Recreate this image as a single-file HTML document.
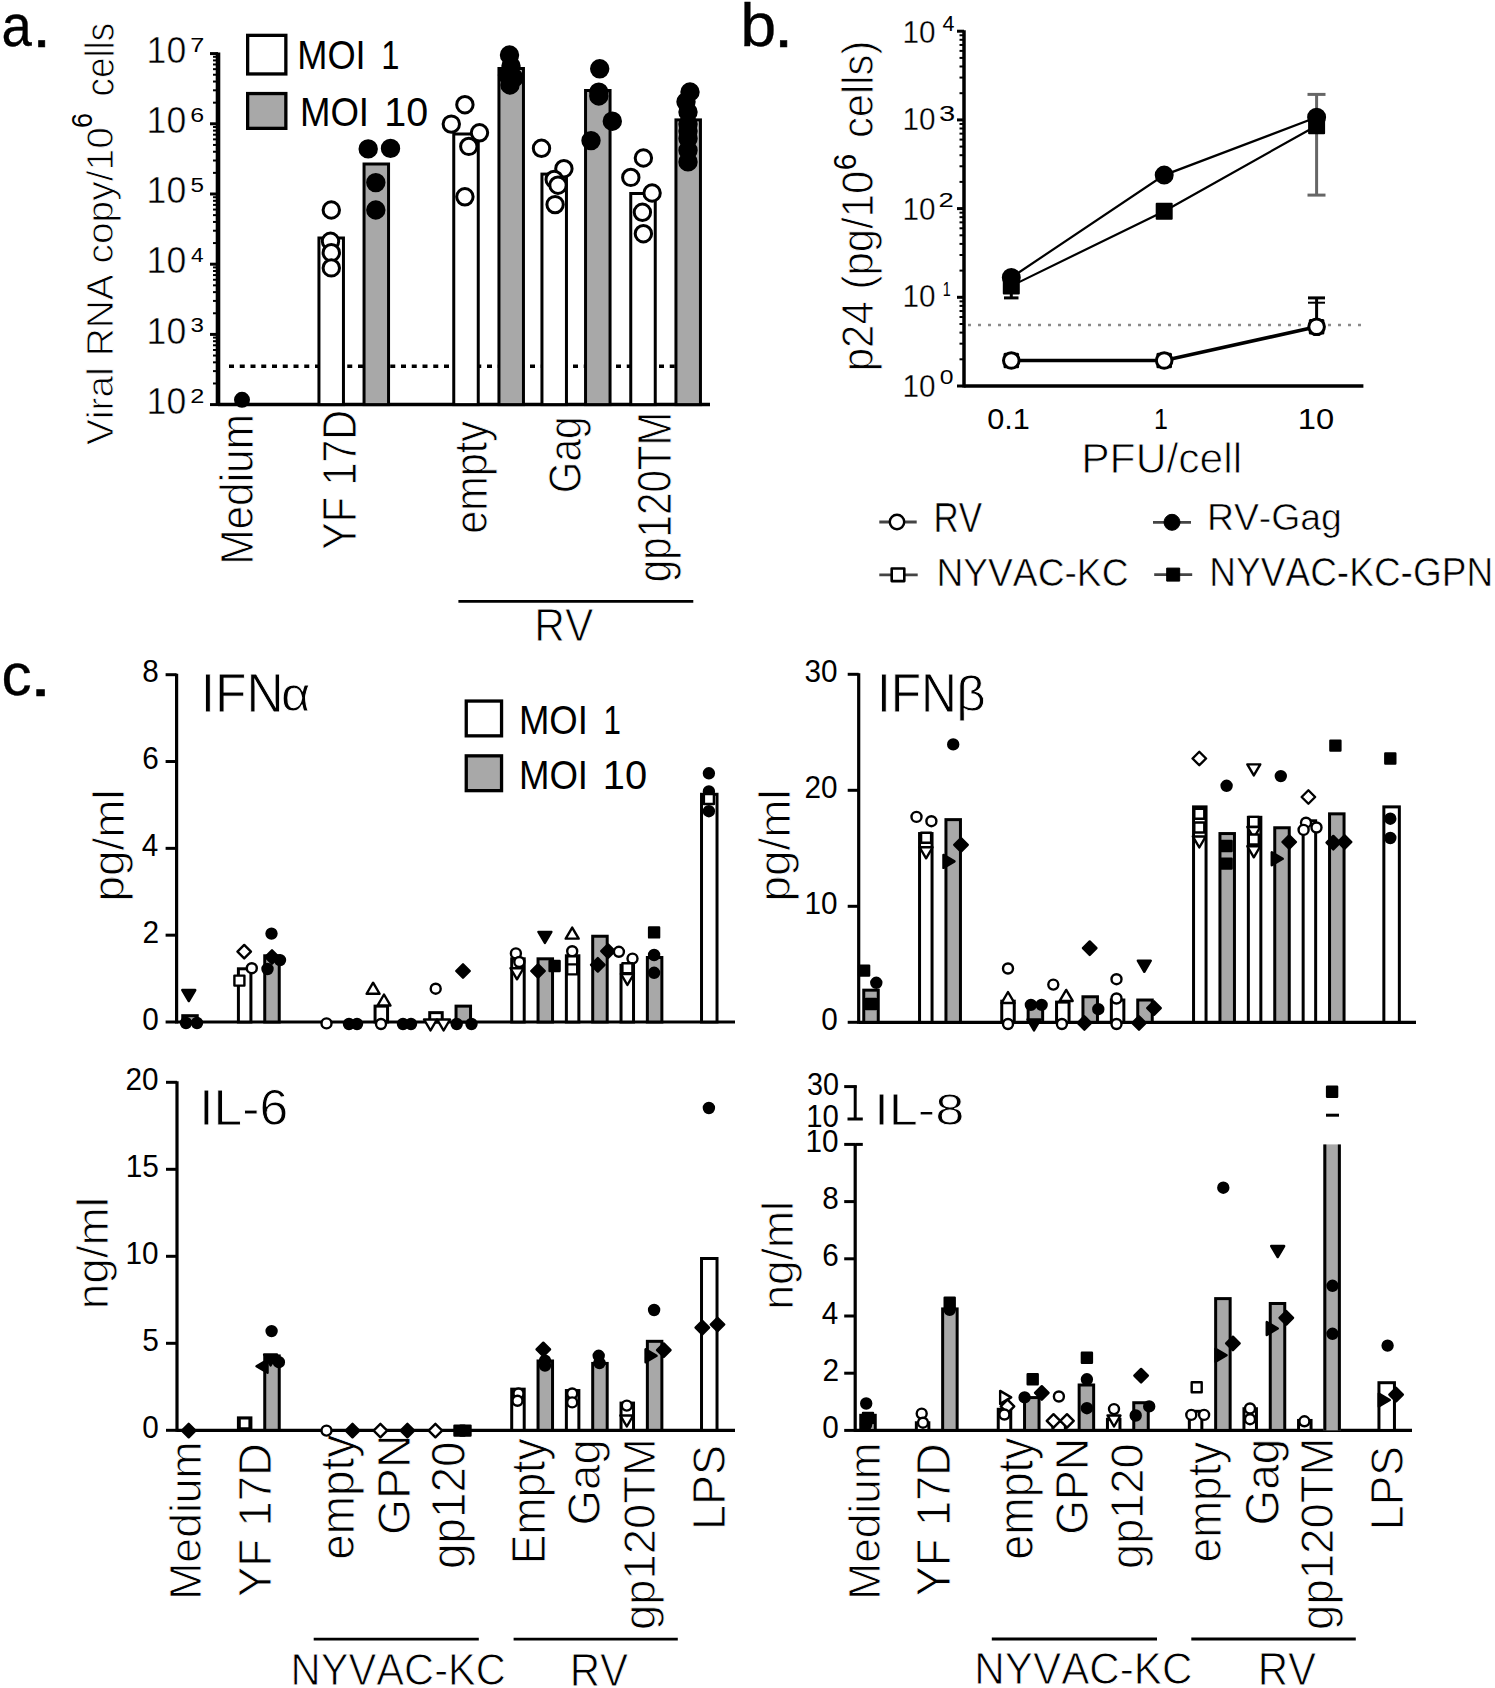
<!DOCTYPE html>
<html><head><meta charset="utf-8"><style>
html,body{margin:0;padding:0;background:#fff;overflow:hidden;}
svg{display:block;font-family:"Liberation Sans", sans-serif;font-kerning:none;}
</style></head><body>
<svg width="1495" height="1688" viewBox="0 0 1495 1688">
<rect width="1495" height="1688" fill="#fff"/>
<text transform="translate(1.39,46.22) scale(0.91,1)" font-size="59.87" fill="#000" stroke="#000" stroke-width="0.3">a</text>
<text transform="translate(32.56,46.8) scale(1.12,1)" font-size="58.92" fill="#000" stroke="#000" stroke-width="0.6">.</text>
<line x1="218" y1="52.6" x2="218" y2="406.1" stroke="#000" stroke-width="4.6"/>
<line x1="210" y1="404.6" x2="218" y2="404.6" stroke="#000" stroke-width="3"/>
<line x1="213" y1="383.47" x2="218" y2="383.47" stroke="#000" stroke-width="2"/>
<line x1="213" y1="371.11" x2="218" y2="371.11" stroke="#000" stroke-width="2"/>
<line x1="213" y1="362.34" x2="218" y2="362.34" stroke="#000" stroke-width="2"/>
<line x1="213" y1="355.53" x2="218" y2="355.53" stroke="#000" stroke-width="2"/>
<line x1="213" y1="349.97" x2="218" y2="349.97" stroke="#000" stroke-width="2"/>
<line x1="213" y1="345.27" x2="218" y2="345.27" stroke="#000" stroke-width="2"/>
<line x1="213" y1="341.2" x2="218" y2="341.2" stroke="#000" stroke-width="2"/>
<line x1="213" y1="337.61" x2="218" y2="337.61" stroke="#000" stroke-width="2"/>
<line x1="210" y1="334.4" x2="218" y2="334.4" stroke="#000" stroke-width="3"/>
<line x1="213" y1="313.27" x2="218" y2="313.27" stroke="#000" stroke-width="2"/>
<line x1="213" y1="300.91" x2="218" y2="300.91" stroke="#000" stroke-width="2"/>
<line x1="213" y1="292.14" x2="218" y2="292.14" stroke="#000" stroke-width="2"/>
<line x1="213" y1="285.33" x2="218" y2="285.33" stroke="#000" stroke-width="2"/>
<line x1="213" y1="279.77" x2="218" y2="279.77" stroke="#000" stroke-width="2"/>
<line x1="213" y1="275.07" x2="218" y2="275.07" stroke="#000" stroke-width="2"/>
<line x1="213" y1="271" x2="218" y2="271" stroke="#000" stroke-width="2"/>
<line x1="213" y1="267.41" x2="218" y2="267.41" stroke="#000" stroke-width="2"/>
<line x1="210" y1="264.2" x2="218" y2="264.2" stroke="#000" stroke-width="3"/>
<line x1="213" y1="243.07" x2="218" y2="243.07" stroke="#000" stroke-width="2"/>
<line x1="213" y1="230.71" x2="218" y2="230.71" stroke="#000" stroke-width="2"/>
<line x1="213" y1="221.94" x2="218" y2="221.94" stroke="#000" stroke-width="2"/>
<line x1="213" y1="215.13" x2="218" y2="215.13" stroke="#000" stroke-width="2"/>
<line x1="213" y1="209.57" x2="218" y2="209.57" stroke="#000" stroke-width="2"/>
<line x1="213" y1="204.87" x2="218" y2="204.87" stroke="#000" stroke-width="2"/>
<line x1="213" y1="200.8" x2="218" y2="200.8" stroke="#000" stroke-width="2"/>
<line x1="213" y1="197.21" x2="218" y2="197.21" stroke="#000" stroke-width="2"/>
<line x1="210" y1="194" x2="218" y2="194" stroke="#000" stroke-width="3"/>
<line x1="213" y1="172.87" x2="218" y2="172.87" stroke="#000" stroke-width="2"/>
<line x1="213" y1="160.51" x2="218" y2="160.51" stroke="#000" stroke-width="2"/>
<line x1="213" y1="151.74" x2="218" y2="151.74" stroke="#000" stroke-width="2"/>
<line x1="213" y1="144.93" x2="218" y2="144.93" stroke="#000" stroke-width="2"/>
<line x1="213" y1="139.37" x2="218" y2="139.37" stroke="#000" stroke-width="2"/>
<line x1="213" y1="134.67" x2="218" y2="134.67" stroke="#000" stroke-width="2"/>
<line x1="213" y1="130.6" x2="218" y2="130.6" stroke="#000" stroke-width="2"/>
<line x1="213" y1="127.01" x2="218" y2="127.01" stroke="#000" stroke-width="2"/>
<line x1="210" y1="123.8" x2="218" y2="123.8" stroke="#000" stroke-width="3"/>
<line x1="213" y1="102.67" x2="218" y2="102.67" stroke="#000" stroke-width="2"/>
<line x1="213" y1="90.31" x2="218" y2="90.31" stroke="#000" stroke-width="2"/>
<line x1="213" y1="81.54" x2="218" y2="81.54" stroke="#000" stroke-width="2"/>
<line x1="213" y1="74.73" x2="218" y2="74.73" stroke="#000" stroke-width="2"/>
<line x1="213" y1="69.17" x2="218" y2="69.17" stroke="#000" stroke-width="2"/>
<line x1="213" y1="64.47" x2="218" y2="64.47" stroke="#000" stroke-width="2"/>
<line x1="213" y1="60.4" x2="218" y2="60.4" stroke="#000" stroke-width="2"/>
<line x1="213" y1="56.81" x2="218" y2="56.81" stroke="#000" stroke-width="2"/>
<line x1="210" y1="53.6" x2="218" y2="53.6" stroke="#000" stroke-width="3"/>
<text transform="translate(146.6,413.74) scale(0.97,1)" font-size="36.72" fill="#000" stroke="#fff" stroke-width="0.5">10</text>
<text transform="translate(190.23,402.6) scale(1.22,1)" font-size="20.77" fill="#000">2</text>
<text transform="translate(146.6,343.54) scale(0.97,1)" font-size="36.72" fill="#000" stroke="#fff" stroke-width="0.5">10</text>
<text transform="translate(190.58,332.2) scale(1.18,1)" font-size="20.48" fill="#000">3</text>
<text transform="translate(146.6,273.34) scale(0.97,1)" font-size="36.72" fill="#000" stroke="#fff" stroke-width="0.5">10</text>
<text transform="translate(190.98,262.2) scale(1.08,1)" font-size="21.08" fill="#000">4</text>
<text transform="translate(146.6,203.14) scale(0.97,1)" font-size="36.72" fill="#000" stroke="#fff" stroke-width="0.5">10</text>
<text transform="translate(190.53,191.8) scale(1.17,1)" font-size="20.78" fill="#000">5</text>
<text transform="translate(146.6,132.94) scale(0.97,1)" font-size="36.72" fill="#000" stroke="#fff" stroke-width="0.5">10</text>
<text transform="translate(190.23,121.6) scale(1.22,1)" font-size="20.48" fill="#000">6</text>
<text transform="translate(146.6,62.74) scale(0.97,1)" font-size="36.72" fill="#000" stroke="#fff" stroke-width="0.5">10</text>
<text transform="translate(190.2,51.6) scale(1.2,1)" font-size="21.08" fill="#000">7</text>
<line x1="218" y1="404.6" x2="710" y2="404.6" stroke="#000" stroke-width="3.5"/>
<line x1="229" y1="366.2" x2="702" y2="366.2" stroke="#000" stroke-width="3.6" stroke-dasharray="5,5.75"/>
<rect x="318.95" y="238" width="24.5" height="166.6" fill="#fff" stroke="#000" stroke-width="3"/>
<rect x="364.05" y="164" width="24.5" height="240.6" fill="#a8a8a8" stroke="#000" stroke-width="3"/>
<rect x="453.75" y="134" width="24.5" height="270.6" fill="#fff" stroke="#000" stroke-width="3"/>
<rect x="498.95" y="68.5" width="24.5" height="336.1" fill="#a8a8a8" stroke="#000" stroke-width="3"/>
<rect x="541.95" y="174.1" width="24.5" height="230.5" fill="#fff" stroke="#000" stroke-width="3"/>
<rect x="585.55" y="90.5" width="24.5" height="314.1" fill="#a8a8a8" stroke="#000" stroke-width="3"/>
<rect x="630.75" y="193.5" width="24.5" height="211.1" fill="#fff" stroke="#000" stroke-width="3"/>
<rect x="675.95" y="119.9" width="24.5" height="284.7" fill="#a8a8a8" stroke="#000" stroke-width="3"/>
<rect x="247.65" y="35.35" width="38.2" height="38.6" fill="#fff" stroke="#000" stroke-width="3.3"/>
<rect x="247.65" y="93.55" width="38.2" height="34.8" fill="#a8a8a8" stroke="#000" stroke-width="3.3"/>
<text transform="translate(297.22,68.51) scale(0.9,1)" font-size="40.25" fill="#000">MOI</text>
<text transform="translate(381.31,68.9) scale(0.79,1)" font-size="41.43" fill="#000">1</text>
<text transform="translate(299.89,126.3) scale(0.9,1)" font-size="40.68" fill="#000">MOI</text>
<text transform="translate(384.19,126.3) scale(0.97,1)" font-size="40.68" fill="#000">10</text>
<text transform="translate(112.76,444.97) rotate(-90) scale(1.03,1)" font-size="37.76" fill="#000" stroke="#fff" stroke-width="0.9">Viral RNA copy/10</text>
<text transform="translate(92.32,127.88) rotate(-90) scale(0.93,1)" font-size="29.1" fill="#000">6</text>
<text transform="translate(113.61,96.46) rotate(-90) scale(0.92,1)" font-size="40.03" fill="#000" stroke="#fff" stroke-width="0.9">cells</text>
<text transform="translate(253.05,564.86) rotate(-90) scale(0.93,1)" font-size="45.62" fill="#000" stroke="#fff" stroke-width="0.9">Medium</text>
<text transform="translate(355.5,549.7) rotate(-90) scale(0.87,1)" font-size="47.38" fill="#000" stroke="#fff" stroke-width="0.9">YF 17D</text>
<text transform="translate(487.25,533.85) rotate(-90) scale(0.9,1)" font-size="46.02" fill="#000" stroke="#fff" stroke-width="0.9">empty</text>
<text transform="translate(580.72,493.14) rotate(-90) scale(0.86,1)" font-size="47.14" fill="#000" stroke="#fff" stroke-width="0.9">Gag</text>
<text transform="translate(670.83,582.3) rotate(-90) scale(0.84,1)" font-size="48.03" fill="#000" stroke="#fff" stroke-width="0.9">gp120TM</text>
<line x1="458.4" y1="601.4" x2="693.3" y2="601.4" stroke="#000" stroke-width="2.8"/>
<text transform="translate(534.32,641) scale(0.92,1)" font-size="46.22" fill="#000" stroke="#fff" stroke-width="0.9">RV</text>
<text transform="translate(740.21,45.71) scale(1.07,1)" font-size="60.46" fill="#000" stroke="#000" stroke-width="0.3">b</text>
<text transform="translate(774.07,46.6) scale(1.12,1)" font-size="61.72" fill="#000" stroke="#000" stroke-width="0.6">.</text>
<line x1="964" y1="30.2" x2="964" y2="387.5" stroke="#000" stroke-width="3.5"/>
<line x1="957" y1="386" x2="964" y2="386" stroke="#000" stroke-width="3"/>
<line x1="959.5" y1="359.3" x2="964" y2="359.3" stroke="#000" stroke-width="2"/>
<line x1="959.5" y1="343.68" x2="964" y2="343.68" stroke="#000" stroke-width="2"/>
<line x1="959.5" y1="332.6" x2="964" y2="332.6" stroke="#000" stroke-width="2"/>
<line x1="959.5" y1="324" x2="964" y2="324" stroke="#000" stroke-width="2"/>
<line x1="959.5" y1="316.98" x2="964" y2="316.98" stroke="#000" stroke-width="2"/>
<line x1="959.5" y1="311.04" x2="964" y2="311.04" stroke="#000" stroke-width="2"/>
<line x1="959.5" y1="305.9" x2="964" y2="305.9" stroke="#000" stroke-width="2"/>
<line x1="959.5" y1="301.36" x2="964" y2="301.36" stroke="#000" stroke-width="2"/>
<line x1="957" y1="297.3" x2="964" y2="297.3" stroke="#000" stroke-width="3"/>
<line x1="959.5" y1="270.6" x2="964" y2="270.6" stroke="#000" stroke-width="2"/>
<line x1="959.5" y1="254.98" x2="964" y2="254.98" stroke="#000" stroke-width="2"/>
<line x1="959.5" y1="243.9" x2="964" y2="243.9" stroke="#000" stroke-width="2"/>
<line x1="959.5" y1="235.3" x2="964" y2="235.3" stroke="#000" stroke-width="2"/>
<line x1="959.5" y1="228.28" x2="964" y2="228.28" stroke="#000" stroke-width="2"/>
<line x1="959.5" y1="222.34" x2="964" y2="222.34" stroke="#000" stroke-width="2"/>
<line x1="959.5" y1="217.2" x2="964" y2="217.2" stroke="#000" stroke-width="2"/>
<line x1="959.5" y1="212.66" x2="964" y2="212.66" stroke="#000" stroke-width="2"/>
<line x1="957" y1="208.6" x2="964" y2="208.6" stroke="#000" stroke-width="3"/>
<line x1="959.5" y1="181.9" x2="964" y2="181.9" stroke="#000" stroke-width="2"/>
<line x1="959.5" y1="166.28" x2="964" y2="166.28" stroke="#000" stroke-width="2"/>
<line x1="959.5" y1="155.2" x2="964" y2="155.2" stroke="#000" stroke-width="2"/>
<line x1="959.5" y1="146.6" x2="964" y2="146.6" stroke="#000" stroke-width="2"/>
<line x1="959.5" y1="139.58" x2="964" y2="139.58" stroke="#000" stroke-width="2"/>
<line x1="959.5" y1="133.64" x2="964" y2="133.64" stroke="#000" stroke-width="2"/>
<line x1="959.5" y1="128.5" x2="964" y2="128.5" stroke="#000" stroke-width="2"/>
<line x1="959.5" y1="123.96" x2="964" y2="123.96" stroke="#000" stroke-width="2"/>
<line x1="957" y1="119.9" x2="964" y2="119.9" stroke="#000" stroke-width="3"/>
<line x1="959.5" y1="93.2" x2="964" y2="93.2" stroke="#000" stroke-width="2"/>
<line x1="959.5" y1="77.58" x2="964" y2="77.58" stroke="#000" stroke-width="2"/>
<line x1="959.5" y1="66.5" x2="964" y2="66.5" stroke="#000" stroke-width="2"/>
<line x1="959.5" y1="57.9" x2="964" y2="57.9" stroke="#000" stroke-width="2"/>
<line x1="959.5" y1="50.88" x2="964" y2="50.88" stroke="#000" stroke-width="2"/>
<line x1="959.5" y1="44.94" x2="964" y2="44.94" stroke="#000" stroke-width="2"/>
<line x1="959.5" y1="39.8" x2="964" y2="39.8" stroke="#000" stroke-width="2"/>
<line x1="959.5" y1="35.26" x2="964" y2="35.26" stroke="#000" stroke-width="2"/>
<line x1="957" y1="31.2" x2="964" y2="31.2" stroke="#000" stroke-width="3"/>
<line x1="964" y1="386" x2="1363.4" y2="386" stroke="#000" stroke-width="3.5"/>
<text transform="translate(902.44,396.89) scale(0.93,1)" font-size="31.92" fill="#000" stroke="#fff" stroke-width="0.3">10</text>
<text transform="translate(902.44,307.29) scale(0.93,1)" font-size="31.92" fill="#000" stroke="#fff" stroke-width="0.3">10</text>
<text transform="translate(902.44,219.99) scale(0.93,1)" font-size="31.92" fill="#000" stroke="#fff" stroke-width="0.3">10</text>
<text transform="translate(902.44,129.99) scale(0.93,1)" font-size="31.92" fill="#000" stroke="#fff" stroke-width="0.3">10</text>
<text transform="translate(902.44,43.19) scale(0.93,1)" font-size="31.92" fill="#000" stroke="#fff" stroke-width="0.3">10</text>
<text transform="translate(942.51,30.7) scale(0.96,1)" font-size="22.38" fill="#000">4</text>
<text transform="translate(938.89,120.58) scale(1.29,1)" font-size="22.6" fill="#000">3</text>
<text transform="translate(938.62,206.8) scale(1.34,1)" font-size="20.48" fill="#000">2</text>
<text transform="translate(942.7,296.4) scale(0.72,1)" font-size="19.91" fill="#000">1</text>
<text transform="translate(939.74,383.81) scale(1.28,1)" font-size="19.35" fill="#000">0</text>
<text transform="translate(987.21,428.62) scale(1.06,1)" font-size="28.95" fill="#000">0.1</text>
<text transform="translate(1153.89,428.9) scale(0.84,1)" font-size="29.8" fill="#000">1</text>
<text transform="translate(1297.71,428.62) scale(1.13,1)" font-size="28.95" fill="#000">10</text>
<text transform="translate(1081.19,472.98) scale(1,1)" font-size="42.62" fill="#000" stroke="#fff" stroke-width="0.9">PFU/cell</text>
<text transform="translate(872.94,371.21) rotate(-90) scale(0.94,1)" font-size="44.63" fill="#000" stroke="#fff" stroke-width="0.9">p24 (pg/10</text>
<text transform="translate(856.39,170.32) rotate(-90) scale(0.93,1)" font-size="32.06" fill="#000">6</text>
<text transform="translate(872.82,137.96) rotate(-90) scale(0.94,1)" font-size="44.33" fill="#000" stroke="#fff" stroke-width="0.9">cells)</text>
<line x1="968" y1="325" x2="1363" y2="325" stroke="#8a8a8a" stroke-width="2.6" stroke-dasharray="3,7"/>
<line x1="879.3" y1="522" x2="916.7" y2="522" stroke="#444" stroke-width="2.8"/>
<circle cx="897" cy="522" r="7.2" fill="#fff" stroke="#000" stroke-width="2.4" stroke-linejoin="round"/>
<line x1="1153" y1="522.3" x2="1191" y2="522.3" stroke="#444" stroke-width="2.8"/>
<circle cx="1172" cy="522.3" r="8" fill="#000" stroke="#000" stroke-width="1" stroke-linejoin="round"/>
<line x1="879.3" y1="574.8" x2="917.7" y2="574.8" stroke="#444" stroke-width="2.8"/>
<rect x="891.7" y="568.5" width="12.6" height="12.6" fill="#fff" stroke="#000" stroke-width="2.6" stroke-linejoin="round"/>
<line x1="1154.2" y1="574.6" x2="1192.2" y2="574.6" stroke="#444" stroke-width="2.8"/>
<rect x="1166.7" y="568.1" width="13" height="13" fill="#000" stroke="#000" stroke-width="1" stroke-linejoin="round"/>
<text transform="translate(933.42,532.3) scale(0.83,1)" font-size="42.15" fill="#000" stroke="#fff" stroke-width="0.6">RV</text>
<text transform="translate(1206.93,530.09) scale(1.02,1)" font-size="36.65" fill="#000" stroke="#fff" stroke-width="0.6">RV-Gag</text>
<text transform="translate(936.43,585.81) scale(0.94,1)" font-size="39.55" fill="#000" stroke="#fff" stroke-width="0.6">NYVAC-KC</text>
<text transform="translate(1209.35,586.01) scale(0.92,1)" font-size="40.25" fill="#000" stroke="#fff" stroke-width="0.6">NYVAC-KC-GPN</text>
<text transform="translate(1.45,695.13) scale(1.03,1)" font-size="58.59" fill="#000" stroke="#000" stroke-width="0.3">c</text>
<text transform="translate(29.61,696.1) scale(1.29,1)" font-size="61.72" fill="#000" stroke="#000" stroke-width="0.6">.</text>
<line x1="176.6" y1="673.7" x2="176.6" y2="1023.5" stroke="#000" stroke-width="3.2"/>
<line x1="165.6" y1="1022" x2="176.6" y2="1022" stroke="#000" stroke-width="3"/>
<text transform="translate(142.13,1029.55) scale(0.97,1)" font-size="30.65" fill="#000">0</text>
<line x1="165.6" y1="935.17" x2="176.6" y2="935.17" stroke="#000" stroke-width="3"/>
<text transform="translate(142.46,943.02) scale(0.96,1)" font-size="31.08" fill="#000">2</text>
<line x1="165.6" y1="848.35" x2="176.6" y2="848.35" stroke="#000" stroke-width="3"/>
<text transform="translate(141.84,856.2) scale(0.94,1)" font-size="31.54" fill="#000">4</text>
<line x1="165.6" y1="761.53" x2="176.6" y2="761.53" stroke="#000" stroke-width="3"/>
<text transform="translate(142.27,769.08) scale(0.97,1)" font-size="30.65" fill="#000">6</text>
<line x1="165.6" y1="674.7" x2="176.6" y2="674.7" stroke="#000" stroke-width="3"/>
<text transform="translate(142.26,682.25) scale(0.97,1)" font-size="30.65" fill="#000">8</text>
<line x1="176.6" y1="1022" x2="735" y2="1022" stroke="#000" stroke-width="3.2"/>
<rect x="182.75" y="1015.69" width="14.5" height="6.31" fill="#a8a8a8" stroke="#000" stroke-width="3"/>
<rect x="238.41" y="968.8" width="12.5" height="53.2" fill="#fff" stroke="#000" stroke-width="3"/>
<rect x="264.74" y="955.78" width="14.5" height="66.22" fill="#a8a8a8" stroke="#000" stroke-width="3"/>
<rect x="320.4" y="1023.5" width="12.5" height="-1.5" fill="#fff" stroke="#000" stroke-width="3"/>
<rect x="346.73" y="1023.5" width="14.5" height="-1.5" fill="#a8a8a8" stroke="#000" stroke-width="3"/>
<rect x="375.06" y="1006.13" width="12.5" height="15.87" fill="#fff" stroke="#000" stroke-width="3"/>
<rect x="401.39" y="1023.5" width="14.5" height="-1.5" fill="#a8a8a8" stroke="#000" stroke-width="3"/>
<rect x="429.72" y="1012.65" width="12.5" height="9.35" fill="#fff" stroke="#000" stroke-width="3"/>
<rect x="456.05" y="1006.13" width="14.5" height="15.87" fill="#a8a8a8" stroke="#000" stroke-width="3"/>
<rect x="511.71" y="958.82" width="12.5" height="63.18" fill="#fff" stroke="#000" stroke-width="3"/>
<rect x="538.04" y="958.82" width="14.5" height="63.18" fill="#a8a8a8" stroke="#000" stroke-width="3"/>
<rect x="566.37" y="955.78" width="12.5" height="66.22" fill="#fff" stroke="#000" stroke-width="3"/>
<rect x="592.7" y="936.24" width="14.5" height="85.76" fill="#a8a8a8" stroke="#000" stroke-width="3"/>
<rect x="621.03" y="965.33" width="12.5" height="56.67" fill="#fff" stroke="#000" stroke-width="3"/>
<rect x="647.36" y="957.51" width="14.5" height="64.49" fill="#a8a8a8" stroke="#000" stroke-width="3"/>
<rect x="701.52" y="794.28" width="15.5" height="227.72" fill="#fff" stroke="#000" stroke-width="3"/>
<text transform="translate(200.67,711.9) scale(0.92,1)" font-size="55.96" fill="#000" stroke="#fff" stroke-width="0.9">IFN</text>
<text transform="translate(281.06,711.44) scale(1.08,1)" font-size="47.28" fill="#000" stroke="#fff" stroke-width="0.9">α</text>
<text transform="translate(124.15,901.56) rotate(-90) scale(1.02,1)" font-size="45.06" fill="#000" stroke="#fff" stroke-width="0.9">pg/ml</text>
<rect x="466.25" y="701.05" width="35.3" height="34.8" fill="#fff" stroke="#000" stroke-width="3.3"/>
<rect x="466.25" y="755.85" width="35.3" height="34.8" fill="#a8a8a8" stroke="#000" stroke-width="3.3"/>
<text transform="translate(518.9,734.01) scale(0.91,1)" font-size="40.11" fill="#000">MOI</text>
<text transform="translate(603.5,734.4) scale(0.76,1)" font-size="41.28" fill="#000">1</text>
<text transform="translate(518.9,788.6) scale(0.9,1)" font-size="40.68" fill="#000">MOI</text>
<text transform="translate(602.87,788.6) scale(0.98,1)" font-size="40.68" fill="#000">10</text>
<line x1="858.7" y1="673.3" x2="858.7" y2="1023.8" stroke="#000" stroke-width="3.2"/>
<line x1="847.7" y1="1022.3" x2="858.7" y2="1022.3" stroke="#000" stroke-width="3"/>
<text transform="translate(821.13,1029.85) scale(0.97,1)" font-size="30.65" fill="#000">0</text>
<line x1="847.7" y1="906.3" x2="858.7" y2="906.3" stroke="#000" stroke-width="3"/>
<text transform="translate(804.59,913.85) scale(0.97,1)" font-size="30.65" fill="#000">10</text>
<line x1="847.7" y1="790.3" x2="858.7" y2="790.3" stroke="#000" stroke-width="3"/>
<text transform="translate(804.59,797.85) scale(0.97,1)" font-size="30.65" fill="#000">20</text>
<line x1="847.7" y1="674.3" x2="858.7" y2="674.3" stroke="#000" stroke-width="3"/>
<text transform="translate(804.59,681.85) scale(0.97,1)" font-size="30.65" fill="#000">30</text>
<line x1="858.7" y1="1022.3" x2="1416" y2="1022.3" stroke="#000" stroke-width="3.2"/>
<rect x="863.75" y="990.16" width="14.5" height="32.14" fill="#a8a8a8" stroke="#000" stroke-width="3"/>
<rect x="919.55" y="833.56" width="12.5" height="188.74" fill="#fff" stroke="#000" stroke-width="3"/>
<rect x="945.95" y="819.64" width="14.5" height="202.66" fill="#a8a8a8" stroke="#000" stroke-width="3"/>
<rect x="1001.75" y="1001.18" width="12.5" height="21.12" fill="#fff" stroke="#000" stroke-width="3"/>
<rect x="1028.15" y="1003.27" width="14.5" height="19.03" fill="#a8a8a8" stroke="#000" stroke-width="3"/>
<rect x="1056.55" y="1002.11" width="12.5" height="20.19" fill="#fff" stroke="#000" stroke-width="3"/>
<rect x="1082.95" y="996.77" width="14.5" height="25.53" fill="#a8a8a8" stroke="#000" stroke-width="3"/>
<rect x="1111.35" y="1000.02" width="12.5" height="22.28" fill="#fff" stroke="#000" stroke-width="3"/>
<rect x="1137.75" y="1000.02" width="14.5" height="22.28" fill="#a8a8a8" stroke="#000" stroke-width="3"/>
<rect x="1193.55" y="806.88" width="12.5" height="215.42" fill="#fff" stroke="#000" stroke-width="3"/>
<rect x="1219.95" y="833.56" width="14.5" height="188.74" fill="#a8a8a8" stroke="#000" stroke-width="3"/>
<rect x="1248.35" y="817.32" width="12.5" height="204.98" fill="#fff" stroke="#000" stroke-width="3"/>
<rect x="1274.75" y="827.76" width="14.5" height="194.54" fill="#a8a8a8" stroke="#000" stroke-width="3"/>
<rect x="1303.15" y="820.8" width="12.5" height="201.5" fill="#fff" stroke="#000" stroke-width="3"/>
<rect x="1329.55" y="813.84" width="14.5" height="208.46" fill="#a8a8a8" stroke="#000" stroke-width="3"/>
<rect x="1383.85" y="806.88" width="15.5" height="215.42" fill="#fff" stroke="#000" stroke-width="3"/>
<text transform="translate(876.93,711.5) scale(0.91,1)" font-size="54.65" fill="#000" stroke="#fff" stroke-width="0.9">IFN</text>
<text transform="translate(956.15,710.77) scale(1.01,1)" font-size="50.74" fill="#000" stroke="#fff" stroke-width="0.9">β</text>
<text transform="translate(789.55,901.56) rotate(-90) scale(1.02,1)" font-size="45.06" fill="#000" stroke="#fff" stroke-width="0.9">pg/ml</text>
<line x1="177" y1="1081.3" x2="177" y2="1431.8" stroke="#000" stroke-width="3.2"/>
<line x1="166" y1="1430.3" x2="177" y2="1430.3" stroke="#000" stroke-width="3"/>
<text transform="translate(142.13,1437.85) scale(0.97,1)" font-size="30.65" fill="#000">0</text>
<line x1="166" y1="1343.3" x2="177" y2="1343.3" stroke="#000" stroke-width="3"/>
<text transform="translate(142.21,1350.85) scale(0.96,1)" font-size="31.1" fill="#000">5</text>
<line x1="166" y1="1256.3" x2="177" y2="1256.3" stroke="#000" stroke-width="3"/>
<text transform="translate(125.59,1263.85) scale(0.97,1)" font-size="30.65" fill="#000">10</text>
<line x1="166" y1="1169.3" x2="177" y2="1169.3" stroke="#000" stroke-width="3"/>
<text transform="translate(125.68,1176.85) scale(0.96,1)" font-size="31.1" fill="#000">15</text>
<line x1="166" y1="1082.3" x2="177" y2="1082.3" stroke="#000" stroke-width="3"/>
<text transform="translate(125.59,1089.85) scale(0.97,1)" font-size="30.65" fill="#000">20</text>
<line x1="177" y1="1430.3" x2="735" y2="1430.3" stroke="#000" stroke-width="3.2"/>
<rect x="182.75" y="1431.8" width="14.5" height="-1.5" fill="#a8a8a8" stroke="#000" stroke-width="3"/>
<rect x="238.41" y="1417.88" width="12.5" height="12.42" fill="#fff" stroke="#000" stroke-width="3"/>
<rect x="264.74" y="1355.94" width="14.5" height="74.36" fill="#a8a8a8" stroke="#000" stroke-width="3"/>
<rect x="320.4" y="1431.8" width="12.5" height="-1.5" fill="#fff" stroke="#000" stroke-width="3"/>
<rect x="346.73" y="1431.8" width="14.5" height="-1.5" fill="#a8a8a8" stroke="#000" stroke-width="3"/>
<rect x="375.06" y="1431.8" width="12.5" height="-1.5" fill="#fff" stroke="#000" stroke-width="3"/>
<rect x="401.39" y="1431.8" width="14.5" height="-1.5" fill="#a8a8a8" stroke="#000" stroke-width="3"/>
<rect x="429.72" y="1431.8" width="12.5" height="-1.5" fill="#fff" stroke="#000" stroke-width="3"/>
<rect x="456.05" y="1431.8" width="14.5" height="-1.5" fill="#a8a8a8" stroke="#000" stroke-width="3"/>
<rect x="511.71" y="1389.17" width="12.5" height="41.13" fill="#fff" stroke="#000" stroke-width="3"/>
<rect x="538.04" y="1360.98" width="14.5" height="69.32" fill="#a8a8a8" stroke="#000" stroke-width="3"/>
<rect x="566.37" y="1390.56" width="12.5" height="39.74" fill="#fff" stroke="#000" stroke-width="3"/>
<rect x="592.7" y="1363.42" width="14.5" height="66.88" fill="#a8a8a8" stroke="#000" stroke-width="3"/>
<rect x="621.03" y="1403.09" width="12.5" height="27.21" fill="#fff" stroke="#000" stroke-width="3"/>
<rect x="647.36" y="1341.32" width="14.5" height="88.98" fill="#a8a8a8" stroke="#000" stroke-width="3"/>
<rect x="701.52" y="1258.5" width="15.5" height="171.8" fill="#fff" stroke="#000" stroke-width="3"/>
<text transform="translate(199.23,1125.32) scale(1.04,1)" font-size="49.58" fill="#000" stroke="#fff" stroke-width="0.9">IL-6</text>
<text transform="translate(108.05,1309.34) rotate(-90) scale(1.02,1)" font-size="45.06" fill="#000" stroke="#fff" stroke-width="0.9">ng/ml</text>
<line x1="855.2" y1="1143.4" x2="855.2" y2="1431.9" stroke="#000" stroke-width="3.2"/>
<line x1="844.2" y1="1430.4" x2="855.2" y2="1430.4" stroke="#000" stroke-width="3"/>
<text transform="translate(822.13,1437.95) scale(0.97,1)" font-size="30.65" fill="#000">0</text>
<line x1="844.2" y1="1373.2" x2="855.2" y2="1373.2" stroke="#000" stroke-width="3"/>
<text transform="translate(822.46,1381.05) scale(0.96,1)" font-size="31.08" fill="#000">2</text>
<line x1="844.2" y1="1316" x2="855.2" y2="1316" stroke="#000" stroke-width="3"/>
<text transform="translate(821.84,1323.85) scale(0.94,1)" font-size="31.54" fill="#000">4</text>
<line x1="844.2" y1="1258.8" x2="855.2" y2="1258.8" stroke="#000" stroke-width="3"/>
<text transform="translate(822.27,1266.35) scale(0.97,1)" font-size="30.65" fill="#000">6</text>
<line x1="844.2" y1="1201.6" x2="855.2" y2="1201.6" stroke="#000" stroke-width="3"/>
<text transform="translate(822.26,1209.15) scale(0.97,1)" font-size="30.65" fill="#000">8</text>
<line x1="844.2" y1="1144.4" x2="855.2" y2="1144.4" stroke="#000" stroke-width="3"/>
<text transform="translate(805.59,1151.95) scale(0.97,1)" font-size="30.65" fill="#000">10</text>
<line x1="855.2" y1="1430.4" x2="1412" y2="1430.4" stroke="#000" stroke-width="3.2"/>
<rect x="860.75" y="1415.31" width="14.5" height="15.09" fill="#a8a8a8" stroke="#000" stroke-width="3"/>
<rect x="916.35" y="1422.75" width="12.5" height="7.65" fill="#fff" stroke="#000" stroke-width="3"/>
<rect x="942.65" y="1308.92" width="14.5" height="121.48" fill="#a8a8a8" stroke="#000" stroke-width="3"/>
<rect x="998.25" y="1409.31" width="12.5" height="21.09" fill="#fff" stroke="#000" stroke-width="3"/>
<rect x="1024.55" y="1397.58" width="14.5" height="32.82" fill="#a8a8a8" stroke="#000" stroke-width="3"/>
<rect x="1052.85" y="1421.32" width="12.5" height="9.08" fill="#fff" stroke="#000" stroke-width="3"/>
<rect x="1079.15" y="1385" width="14.5" height="45.4" fill="#a8a8a8" stroke="#000" stroke-width="3"/>
<rect x="1107.45" y="1419.32" width="12.5" height="11.08" fill="#fff" stroke="#000" stroke-width="3"/>
<rect x="1133.75" y="1402.73" width="14.5" height="27.67" fill="#a8a8a8" stroke="#000" stroke-width="3"/>
<rect x="1189.35" y="1411.31" width="12.5" height="19.09" fill="#fff" stroke="#000" stroke-width="3"/>
<rect x="1215.65" y="1298.62" width="14.5" height="131.78" fill="#a8a8a8" stroke="#000" stroke-width="3"/>
<rect x="1243.95" y="1408.73" width="12.5" height="21.67" fill="#fff" stroke="#000" stroke-width="3"/>
<rect x="1270.25" y="1303.49" width="14.5" height="126.91" fill="#a8a8a8" stroke="#000" stroke-width="3"/>
<rect x="1298.55" y="1420.46" width="12.5" height="9.94" fill="#fff" stroke="#000" stroke-width="3"/>
<rect x="1323.35" y="1144.4" width="17.5" height="286" fill="#a8a8a8"/>
<line x1="1324.85" y1="1144.4" x2="1324.85" y2="1430.4" stroke="#000" stroke-width="3"/>
<line x1="1339.35" y1="1144.4" x2="1339.35" y2="1430.4" stroke="#000" stroke-width="3"/>
<rect x="1378.95" y="1382.71" width="15.5" height="47.69" fill="#fff" stroke="#000" stroke-width="3"/>
<line x1="855.2" y1="1085.5" x2="855.2" y2="1119.4" stroke="#000" stroke-width="3"/>
<line x1="844.2" y1="1086.6" x2="856.7" y2="1086.6" stroke="#000" stroke-width="3"/>
<line x1="847.5" y1="1119" x2="862.8" y2="1119" stroke="#000" stroke-width="3"/>
<line x1="855.2" y1="1144.4" x2="862.8" y2="1144.4" stroke="#000" stroke-width="3"/>
<text transform="translate(806.91,1094.69) scale(0.9,1)" font-size="31.92" fill="#000">30</text>
<text transform="translate(806.17,1126.59) scale(0.92,1)" font-size="31.92" fill="#000">10</text>
<text transform="translate(874.17,1125.26) scale(1.17,1)" font-size="44.77" fill="#000" stroke="#fff" stroke-width="0.9">IL-8</text>
<text transform="translate(792.87,1309.87) rotate(-90) scale(0.99,1)" font-size="44.95" fill="#000" stroke="#fff" stroke-width="0.9">ng/ml</text>
<text transform="translate(201.27,1599.76) rotate(-90) scale(1.02,1)" font-size="43.71" fill="#000" stroke="#fff" stroke-width="0.9">Medium</text>
<text transform="translate(271.3,1597.1) rotate(-90) scale(0.97,1)" font-size="46.8" fill="#000" stroke="#fff" stroke-width="0.9">YF 17D</text>
<text transform="translate(354.17,1559.74) rotate(-90) scale(0.94,1)" font-size="48.83" fill="#000" stroke="#fff" stroke-width="0.9">empty</text>
<text transform="translate(409.96,1534.92) rotate(-90) scale(1.02,1)" font-size="45.34" fill="#000" stroke="#fff" stroke-width="0.9">GPN</text>
<text transform="translate(464.79,1568.93) rotate(-90) scale(0.97,1)" font-size="47.25" fill="#000" stroke="#fff" stroke-width="0.9">gp120</text>
<text transform="translate(544.88,1564.24) rotate(-90) scale(0.93,1)" font-size="47.79" fill="#000" stroke="#fff" stroke-width="0.9">Empty</text>
<text transform="translate(599.85,1525.4) rotate(-90) scale(0.99,1)" font-size="46.04" fill="#000" stroke="#fff" stroke-width="0.9">Gag</text>
<text transform="translate(654.68,1629.91) rotate(-90) scale(1.01,1)" font-size="44.93" fill="#000" stroke="#fff" stroke-width="0.9">gp120TM</text>
<text transform="translate(724.56,1529.99) rotate(-90) scale(0.99,1)" font-size="45.34" fill="#000" stroke="#fff" stroke-width="0.9">LPS</text>
<text transform="translate(879.57,1599.74) rotate(-90) scale(1.01,1)" font-size="43.85" fill="#000" stroke="#fff" stroke-width="0.9">Medium</text>
<text transform="translate(950.4,1596.2) rotate(-90) scale(0.94,1)" font-size="47.97" fill="#000" stroke="#fff" stroke-width="0.9">YF 17D</text>
<text transform="translate(1033.15,1559.7) rotate(-90) scale(0.9,1)" font-size="49.88" fill="#000" stroke="#fff" stroke-width="0.9">empty</text>
<text transform="translate(1088.24,1534.86) rotate(-90) scale(0.96,1)" font-size="46.61" fill="#000" stroke="#fff" stroke-width="0.9">GPN</text>
<text transform="translate(1142.85,1568.9) rotate(-90) scale(0.98,1)" font-size="46.04" fill="#000" stroke="#fff" stroke-width="0.9">gp120</text>
<text transform="translate(1220.71,1562.48) rotate(-90) scale(0.93,1)" font-size="47.66" fill="#000" stroke="#fff" stroke-width="0.9">empty</text>
<text transform="translate(1278.57,1525.4) rotate(-90) scale(0.97,1)" font-size="47.36" fill="#000" stroke="#fff" stroke-width="0.9">Gag</text>
<text transform="translate(1333.35,1629.92) rotate(-90) scale(0.99,1)" font-size="46.04" fill="#000" stroke="#fff" stroke-width="0.9">gp120TM</text>
<text transform="translate(1403.44,1529.94) rotate(-90) scale(0.95,1)" font-size="46.75" fill="#000" stroke="#fff" stroke-width="0.9">LPS</text>
<line x1="313.7" y1="1639.2" x2="478.8" y2="1639.2" stroke="#000" stroke-width="2.8"/>
<line x1="513.6" y1="1639.2" x2="677.8" y2="1639.2" stroke="#000" stroke-width="2.8"/>
<text transform="translate(290.57,1685.17) scale(0.94,1)" font-size="44.35" fill="#000" stroke="#fff" stroke-width="0.9">NYVAC-KC</text>
<text transform="translate(569.64,1685.6) scale(0.92,1)" font-size="45.79" fill="#000" stroke="#fff" stroke-width="0.9">RV</text>
<line x1="991.8" y1="1639" x2="1157" y2="1639" stroke="#000" stroke-width="2.8"/>
<line x1="1191.3" y1="1639" x2="1355.8" y2="1639" stroke="#000" stroke-width="2.8"/>
<text transform="translate(974.35,1684.36) scale(0.94,1)" font-size="44.91" fill="#000" stroke="#fff" stroke-width="0.9">NYVAC-KC</text>
<text transform="translate(1257.76,1684.8) scale(0.91,1)" font-size="46.22" fill="#000" stroke="#fff" stroke-width="0.9">RV</text>
<circle cx="331.3" cy="210" r="8.2" fill="#fff" stroke="#000" stroke-width="3" stroke-linejoin="round"/>
<circle cx="330.5" cy="241.3" r="8.2" fill="#fff" stroke="#000" stroke-width="3" stroke-linejoin="round"/>
<circle cx="331.3" cy="252.7" r="8.2" fill="#fff" stroke="#000" stroke-width="3" stroke-linejoin="round"/>
<circle cx="331.3" cy="267.9" r="8.2" fill="#fff" stroke="#000" stroke-width="3" stroke-linejoin="round"/>
<circle cx="368.2" cy="148.9" r="8.2" fill="#000" stroke="#000" stroke-width="3" stroke-linejoin="round"/>
<circle cx="390.5" cy="148.4" r="8.2" fill="#000" stroke="#000" stroke-width="3" stroke-linejoin="round"/>
<circle cx="375.8" cy="182.6" r="8.2" fill="#000" stroke="#000" stroke-width="3" stroke-linejoin="round"/>
<circle cx="375.8" cy="210" r="8.2" fill="#000" stroke="#000" stroke-width="3" stroke-linejoin="round"/>
<circle cx="464.9" cy="104.7" r="8.2" fill="#fff" stroke="#000" stroke-width="3" stroke-linejoin="round"/>
<circle cx="451.3" cy="124.1" r="8.2" fill="#fff" stroke="#000" stroke-width="3" stroke-linejoin="round"/>
<circle cx="479.5" cy="132.8" r="8.2" fill="#fff" stroke="#000" stroke-width="3" stroke-linejoin="round"/>
<circle cx="468.8" cy="146.4" r="8.2" fill="#fff" stroke="#000" stroke-width="3" stroke-linejoin="round"/>
<circle cx="464.9" cy="196.8" r="8.2" fill="#fff" stroke="#000" stroke-width="3" stroke-linejoin="round"/>
<circle cx="509.5" cy="55" r="8.2" fill="#000" stroke="#000" stroke-width="3" stroke-linejoin="round"/>
<circle cx="511" cy="66" r="8.2" fill="#000" stroke="#000" stroke-width="3" stroke-linejoin="round"/>
<circle cx="507.5" cy="75" r="8.2" fill="#000" stroke="#000" stroke-width="3" stroke-linejoin="round"/>
<circle cx="514" cy="78" r="8.2" fill="#000" stroke="#000" stroke-width="3" stroke-linejoin="round"/>
<circle cx="510" cy="85" r="8.2" fill="#000" stroke="#000" stroke-width="3" stroke-linejoin="round"/>
<circle cx="541.5" cy="148.3" r="8.2" fill="#fff" stroke="#000" stroke-width="3" stroke-linejoin="round"/>
<circle cx="563.9" cy="168.7" r="8.2" fill="#fff" stroke="#000" stroke-width="3" stroke-linejoin="round"/>
<circle cx="554.2" cy="179.4" r="8.2" fill="#fff" stroke="#000" stroke-width="3" stroke-linejoin="round"/>
<circle cx="558" cy="185.2" r="8.2" fill="#fff" stroke="#000" stroke-width="3" stroke-linejoin="round"/>
<circle cx="555.1" cy="204.6" r="8.2" fill="#fff" stroke="#000" stroke-width="3" stroke-linejoin="round"/>
<circle cx="599.7" cy="68.8" r="8.2" fill="#000" stroke="#000" stroke-width="3" stroke-linejoin="round"/>
<circle cx="598.8" cy="92.1" r="8.2" fill="#000" stroke="#000" stroke-width="3" stroke-linejoin="round"/>
<circle cx="598.8" cy="96" r="8.2" fill="#000" stroke="#000" stroke-width="3" stroke-linejoin="round"/>
<circle cx="612.3" cy="121.2" r="8.2" fill="#000" stroke="#000" stroke-width="3" stroke-linejoin="round"/>
<circle cx="591" cy="140.6" r="8.2" fill="#000" stroke="#000" stroke-width="3" stroke-linejoin="round"/>
<circle cx="643.4" cy="158" r="8.2" fill="#fff" stroke="#000" stroke-width="3" stroke-linejoin="round"/>
<circle cx="630.8" cy="177.4" r="8.2" fill="#fff" stroke="#000" stroke-width="3" stroke-linejoin="round"/>
<circle cx="652.1" cy="193" r="8.2" fill="#fff" stroke="#000" stroke-width="3" stroke-linejoin="round"/>
<circle cx="642.4" cy="212.3" r="8.2" fill="#fff" stroke="#000" stroke-width="3" stroke-linejoin="round"/>
<circle cx="643.4" cy="233.7" r="8.2" fill="#fff" stroke="#000" stroke-width="3" stroke-linejoin="round"/>
<circle cx="690" cy="92" r="8.2" fill="#000" stroke="#000" stroke-width="3" stroke-linejoin="round"/>
<circle cx="686" cy="101.8" r="8.2" fill="#000" stroke="#000" stroke-width="3" stroke-linejoin="round"/>
<circle cx="688" cy="112" r="8.2" fill="#000" stroke="#000" stroke-width="3" stroke-linejoin="round"/>
<circle cx="688" cy="124" r="8.2" fill="#000" stroke="#000" stroke-width="3" stroke-linejoin="round"/>
<circle cx="688" cy="131" r="8.2" fill="#000" stroke="#000" stroke-width="3" stroke-linejoin="round"/>
<circle cx="688" cy="138.6" r="8.2" fill="#000" stroke="#000" stroke-width="3" stroke-linejoin="round"/>
<circle cx="688" cy="150.3" r="8.2" fill="#000" stroke="#000" stroke-width="3" stroke-linejoin="round"/>
<circle cx="688" cy="161.9" r="8.2" fill="#000" stroke="#000" stroke-width="3" stroke-linejoin="round"/>
<circle cx="242" cy="399.8" r="7" fill="#000" stroke="#000" stroke-width="2" stroke-linejoin="round"/>
<line x1="1316.6" y1="94.4" x2="1316.6" y2="195.1" stroke="#666" stroke-width="3"/>
<line x1="1307.5" y1="94.4" x2="1325.5" y2="94.4" stroke="#666" stroke-width="3"/>
<line x1="1307.5" y1="195.1" x2="1325.5" y2="195.1" stroke="#666" stroke-width="3"/>
<line x1="1011.3" y1="285" x2="1011.3" y2="297.9" stroke="#000" stroke-width="3"/>
<line x1="1004" y1="297.9" x2="1018.5" y2="297.9" stroke="#000" stroke-width="3"/>
<line x1="1316.6" y1="297.9" x2="1316.6" y2="326" stroke="#000" stroke-width="3"/>
<line x1="1308" y1="297.9" x2="1325" y2="297.9" stroke="#000" stroke-width="3"/>
<line x1="1308" y1="302.7" x2="1325" y2="302.7" stroke="#000" stroke-width="2"/>
<polyline points="1011.3,277.5 1164.2,175.1 1316.6,117.3" fill="none" stroke="#000" stroke-width="2.2"/>
<polyline points="1011.3,285.9 1164.2,211.2 1316.6,125.7" fill="none" stroke="#000" stroke-width="2.2"/>
<polyline points="1011.3,360.5 1164.2,360.5 1316.6,326.8" fill="none" stroke="#000" stroke-width="3.5"/>
<rect x="1003.8" y="278.4" width="15" height="15" fill="#000" stroke="#000" stroke-width="2" stroke-linejoin="round"/>
<rect x="1156.7" y="203.7" width="15" height="15" fill="#000" stroke="#000" stroke-width="2" stroke-linejoin="round"/>
<rect x="1309.1" y="118.2" width="15" height="15" fill="#000" stroke="#000" stroke-width="2" stroke-linejoin="round"/>
<circle cx="1011.3" cy="277.5" r="8.5" fill="#000" stroke="#000" stroke-width="2" stroke-linejoin="round"/>
<circle cx="1164.2" cy="175.1" r="8.5" fill="#000" stroke="#000" stroke-width="2" stroke-linejoin="round"/>
<circle cx="1316.6" cy="117.3" r="8.5" fill="#000" stroke="#000" stroke-width="2" stroke-linejoin="round"/>
<rect x="1005" y="354.2" width="12.6" height="12.6" fill="#fff" stroke="#000" stroke-width="3" stroke-linejoin="round"/>
<circle cx="1011.3" cy="360.5" r="7.8" fill="#fff" stroke="#000" stroke-width="3" stroke-linejoin="round"/>
<rect x="1157.9" y="354.2" width="12.6" height="12.6" fill="#fff" stroke="#000" stroke-width="3" stroke-linejoin="round"/>
<circle cx="1164.2" cy="360.5" r="7.8" fill="#fff" stroke="#000" stroke-width="3" stroke-linejoin="round"/>
<rect x="1310.3" y="320.5" width="12.6" height="12.6" fill="#fff" stroke="#000" stroke-width="3" stroke-linejoin="round"/>
<circle cx="1316.6" cy="326.8" r="7.8" fill="#fff" stroke="#000" stroke-width="3" stroke-linejoin="round"/>
<polygon points="188.8,1001.1 195.3,990.05 182.3,990.05" fill="#000" stroke="#000" stroke-width="2.4" stroke-linejoin="round"/>
<circle cx="186" cy="1023" r="5" fill="#000" stroke="#000" stroke-width="2.4" stroke-linejoin="round"/>
<circle cx="197" cy="1023" r="5" fill="#000" stroke="#000" stroke-width="2.4" stroke-linejoin="round"/>
<polygon points="244.2,944.95 250.95,951.7 244.2,958.45 237.45,951.7" fill="#fff" stroke="#000" stroke-width="2.4" stroke-linejoin="round"/>
<circle cx="251.8" cy="968.2" r="5" fill="#fff" stroke="#000" stroke-width="2.4" stroke-linejoin="round"/>
<rect x="234.4" y="975.6" width="10" height="10" fill="#fff" stroke="#000" stroke-width="2.4" stroke-linejoin="round"/>
<circle cx="271.5" cy="933.6" r="5" fill="#000" stroke="#000" stroke-width="2.4" stroke-linejoin="round"/>
<circle cx="280" cy="960.1" r="5" fill="#000" stroke="#000" stroke-width="2.4" stroke-linejoin="round"/>
<circle cx="267.5" cy="969" r="5" fill="#000" stroke="#000" stroke-width="2.4" stroke-linejoin="round"/>
<polygon points="272,950.25 278.75,957 272,963.75 265.25,957" fill="#000" stroke="#000" stroke-width="2.4" stroke-linejoin="round"/>
<circle cx="326.5" cy="1023.4" r="5" fill="#fff" stroke="#000" stroke-width="2.4" stroke-linejoin="round"/>
<circle cx="349" cy="1024" r="5" fill="#000" stroke="#000" stroke-width="2.4" stroke-linejoin="round"/>
<circle cx="357" cy="1024" r="5" fill="#000" stroke="#000" stroke-width="2.4" stroke-linejoin="round"/>
<polygon points="373.1,982.7 379.6,993.75 366.6,993.75" fill="#fff" stroke="#000" stroke-width="2.4" stroke-linejoin="round"/>
<polygon points="384,994.5 390.5,1005.55 377.5,1005.55" fill="#fff" stroke="#000" stroke-width="2.4" stroke-linejoin="round"/>
<circle cx="381" cy="1024" r="5" fill="#fff" stroke="#000" stroke-width="2.4" stroke-linejoin="round"/>
<circle cx="403" cy="1024" r="5" fill="#000" stroke="#000" stroke-width="2.4" stroke-linejoin="round"/>
<circle cx="411" cy="1024" r="5" fill="#000" stroke="#000" stroke-width="2.4" stroke-linejoin="round"/>
<circle cx="435.7" cy="988.7" r="5" fill="#fff" stroke="#000" stroke-width="2.4" stroke-linejoin="round"/>
<polygon points="430.5,1030.5 437,1019.45 424,1019.45" fill="#fff" stroke="#000" stroke-width="2.4" stroke-linejoin="round"/>
<polygon points="443.6,1030.5 450.1,1019.45 437.1,1019.45" fill="#fff" stroke="#000" stroke-width="2.4" stroke-linejoin="round"/>
<polygon points="463,964.25 469.75,971 463,977.75 456.25,971" fill="#000" stroke="#000" stroke-width="2.4" stroke-linejoin="round"/>
<circle cx="456.7" cy="1024" r="5" fill="#000" stroke="#000" stroke-width="2.4" stroke-linejoin="round"/>
<circle cx="471.5" cy="1024" r="5" fill="#000" stroke="#000" stroke-width="2.4" stroke-linejoin="round"/>
<circle cx="515.9" cy="953.4" r="5" fill="#fff" stroke="#000" stroke-width="2.4" stroke-linejoin="round"/>
<circle cx="519.3" cy="962" r="5" fill="#fff" stroke="#000" stroke-width="2.4" stroke-linejoin="round"/>
<polygon points="517,979.3 523.5,968.25 510.5,968.25" fill="#fff" stroke="#000" stroke-width="2.4" stroke-linejoin="round"/>
<polygon points="544.9,942.9 551.4,931.85 538.4,931.85" fill="#000" stroke="#000" stroke-width="2.4" stroke-linejoin="round"/>
<rect x="549.6" y="961" width="10" height="10" fill="#000" stroke="#000" stroke-width="2.4" stroke-linejoin="round"/>
<polygon points="538,964.25 544.75,971 538,977.75 531.25,971" fill="#000" stroke="#000" stroke-width="2.4" stroke-linejoin="round"/>
<polygon points="572.2,927.6 578.7,938.65 565.7,938.65" fill="#fff" stroke="#000" stroke-width="2.4" stroke-linejoin="round"/>
<circle cx="572.2" cy="951.2" r="5" fill="#fff" stroke="#000" stroke-width="2.4" stroke-linejoin="round"/>
<rect x="567.2" y="956.4" width="10" height="10" fill="#fff" stroke="#000" stroke-width="2.4" stroke-linejoin="round"/>
<rect x="567.2" y="964.4" width="10" height="10" fill="#fff" stroke="#000" stroke-width="2.4" stroke-linejoin="round"/>
<polygon points="608,944.45 614.75,951.2 608,957.95 601.25,951.2" fill="#000" stroke="#000" stroke-width="2.4" stroke-linejoin="round"/>
<polygon points="597.8,958.05 604.55,964.8 597.8,971.55 591.05,964.8" fill="#000" stroke="#000" stroke-width="2.4" stroke-linejoin="round"/>
<circle cx="618.9" cy="951.8" r="5" fill="#fff" stroke="#000" stroke-width="2.4" stroke-linejoin="round"/>
<circle cx="632.5" cy="958.6" r="5" fill="#fff" stroke="#000" stroke-width="2.4" stroke-linejoin="round"/>
<rect x="622.4" y="963.2" width="10" height="10" fill="#fff" stroke="#000" stroke-width="2.4" stroke-linejoin="round"/>
<polygon points="627.4,985 633.9,973.95 620.9,973.95" fill="#fff" stroke="#000" stroke-width="2.4" stroke-linejoin="round"/>
<rect x="649.1" y="927.4" width="10" height="10" fill="#000" stroke="#000" stroke-width="2.4" stroke-linejoin="round"/>
<circle cx="654.1" cy="955" r="5" fill="#000" stroke="#000" stroke-width="2.4" stroke-linejoin="round"/>
<circle cx="654.1" cy="972.8" r="5" fill="#000" stroke="#000" stroke-width="2.4" stroke-linejoin="round"/>
<circle cx="708.9" cy="773.3" r="5" fill="#000" stroke="#000" stroke-width="2.4" stroke-linejoin="round"/>
<circle cx="708.9" cy="791.5" r="5" fill="#000" stroke="#000" stroke-width="2.4" stroke-linejoin="round"/>
<rect x="703.9" y="794" width="10" height="10" fill="#fff" stroke="#000" stroke-width="2.4" stroke-linejoin="round"/>
<circle cx="708.9" cy="811.2" r="5" fill="#000" stroke="#000" stroke-width="2.4" stroke-linejoin="round"/>
<rect x="859.1" y="965.6" width="10" height="10" fill="#000" stroke="#000" stroke-width="2.4" stroke-linejoin="round"/>
<circle cx="876.3" cy="982.8" r="5" fill="#000" stroke="#000" stroke-width="2.4" stroke-linejoin="round"/>
<rect x="866" y="999" width="10" height="10" fill="#000" stroke="#000" stroke-width="2.4" stroke-linejoin="round"/>
<circle cx="916.5" cy="816.9" r="5" fill="#fff" stroke="#000" stroke-width="2.4" stroke-linejoin="round"/>
<circle cx="931.4" cy="821.2" r="5" fill="#fff" stroke="#000" stroke-width="2.4" stroke-linejoin="round"/>
<rect x="921.1" y="832.8" width="10" height="10" fill="#fff" stroke="#000" stroke-width="2.4" stroke-linejoin="round"/>
<polygon points="926.1,858.3 932.6,847.25 919.6,847.25" fill="#fff" stroke="#000" stroke-width="2.4" stroke-linejoin="round"/>
<circle cx="953.2" cy="744.4" r="5" fill="#000" stroke="#000" stroke-width="2.4" stroke-linejoin="round"/>
<polygon points="961,838.05 967.75,844.8 961,851.55 954.25,844.8" fill="#000" stroke="#000" stroke-width="2.4" stroke-linejoin="round"/>
<polygon points="954.5,861.4 943.45,854.9 943.45,867.9" fill="#000" stroke="#000" stroke-width="2.4" stroke-linejoin="round"/>
<circle cx="1008" cy="968.5" r="5" fill="#fff" stroke="#000" stroke-width="2.4" stroke-linejoin="round"/>
<polygon points="1008,992 1014.5,1003.05 1001.5,1003.05" fill="#fff" stroke="#000" stroke-width="2.4" stroke-linejoin="round"/>
<circle cx="1008" cy="1024" r="5" fill="#fff" stroke="#000" stroke-width="2.4" stroke-linejoin="round"/>
<circle cx="1030.9" cy="1004.9" r="5" fill="#000" stroke="#000" stroke-width="2.4" stroke-linejoin="round"/>
<circle cx="1041.6" cy="1004.9" r="5" fill="#000" stroke="#000" stroke-width="2.4" stroke-linejoin="round"/>
<polygon points="1034,1030.5 1040.5,1019.45 1027.5,1019.45" fill="#000" stroke="#000" stroke-width="2.4" stroke-linejoin="round"/>
<circle cx="1053.3" cy="984.6" r="5" fill="#fff" stroke="#000" stroke-width="2.4" stroke-linejoin="round"/>
<polygon points="1066.2,989.9 1072.7,1000.95 1059.7,1000.95" fill="#fff" stroke="#000" stroke-width="2.4" stroke-linejoin="round"/>
<circle cx="1061.9" cy="1024" r="5" fill="#fff" stroke="#000" stroke-width="2.4" stroke-linejoin="round"/>
<polygon points="1089.7,941.45 1096.45,948.2 1089.7,954.95 1082.95,948.2" fill="#000" stroke="#000" stroke-width="2.4" stroke-linejoin="round"/>
<circle cx="1098.3" cy="1009.2" r="5" fill="#000" stroke="#000" stroke-width="2.4" stroke-linejoin="round"/>
<polygon points="1084.4,1016.25 1091.15,1023 1084.4,1029.75 1077.65,1023" fill="#000" stroke="#000" stroke-width="2.4" stroke-linejoin="round"/>
<circle cx="1116.5" cy="979.2" r="5" fill="#fff" stroke="#000" stroke-width="2.4" stroke-linejoin="round"/>
<circle cx="1116.5" cy="998.5" r="5" fill="#fff" stroke="#000" stroke-width="2.4" stroke-linejoin="round"/>
<circle cx="1116.5" cy="1024" r="5" fill="#fff" stroke="#000" stroke-width="2.4" stroke-linejoin="round"/>
<polygon points="1144.3,971.8 1150.8,960.75 1137.8,960.75" fill="#000" stroke="#000" stroke-width="2.4" stroke-linejoin="round"/>
<polygon points="1154,1001.35 1160.75,1008.1 1154,1014.85 1147.25,1008.1" fill="#000" stroke="#000" stroke-width="2.4" stroke-linejoin="round"/>
<polygon points="1139,1016.25 1145.75,1023 1139,1029.75 1132.25,1023" fill="#000" stroke="#000" stroke-width="2.4" stroke-linejoin="round"/>
<polygon points="1199.3,751.75 1206.05,758.5 1199.3,765.25 1192.55,758.5" fill="#fff" stroke="#000" stroke-width="2.4" stroke-linejoin="round"/>
<rect x="1194.3" y="808.8" width="10" height="10" fill="#fff" stroke="#000" stroke-width="2.4" stroke-linejoin="round"/>
<rect x="1194.3" y="822.5" width="10" height="10" fill="#fff" stroke="#000" stroke-width="2.4" stroke-linejoin="round"/>
<polygon points="1199.3,847.5 1205.8,836.45 1192.8,836.45" fill="#fff" stroke="#000" stroke-width="2.4" stroke-linejoin="round"/>
<circle cx="1226.6" cy="785.8" r="5" fill="#000" stroke="#000" stroke-width="2.4" stroke-linejoin="round"/>
<rect x="1221.6" y="841" width="10" height="10" fill="#000" stroke="#000" stroke-width="2.4" stroke-linejoin="round"/>
<rect x="1221.6" y="858.6" width="10" height="10" fill="#000" stroke="#000" stroke-width="2.4" stroke-linejoin="round"/>
<polygon points="1253.8,775.4 1260.3,764.35 1247.3,764.35" fill="#fff" stroke="#000" stroke-width="2.4" stroke-linejoin="round"/>
<rect x="1248.8" y="816.9" width="10" height="10" fill="#fff" stroke="#000" stroke-width="2.4" stroke-linejoin="round"/>
<polygon points="1253.8,838 1260.3,826.95 1247.3,826.95" fill="#fff" stroke="#000" stroke-width="2.4" stroke-linejoin="round"/>
<rect x="1248.8" y="834.5" width="10" height="10" fill="#fff" stroke="#000" stroke-width="2.4" stroke-linejoin="round"/>
<polygon points="1253.8,857.3 1260.3,846.25 1247.3,846.25" fill="#fff" stroke="#000" stroke-width="2.4" stroke-linejoin="round"/>
<circle cx="1280.8" cy="776.1" r="5" fill="#000" stroke="#000" stroke-width="2.4" stroke-linejoin="round"/>
<polygon points="1289.2,835.25 1295.95,842 1289.2,848.75 1282.45,842" fill="#000" stroke="#000" stroke-width="2.4" stroke-linejoin="round"/>
<polygon points="1282.8,858.8 1271.75,852.3 1271.75,865.3" fill="#000" stroke="#000" stroke-width="2.4" stroke-linejoin="round"/>
<polygon points="1308.4,790.25 1315.15,797 1308.4,803.75 1301.65,797" fill="#fff" stroke="#000" stroke-width="2.4" stroke-linejoin="round"/>
<circle cx="1306" cy="822.7" r="5" fill="#fff" stroke="#000" stroke-width="2.4" stroke-linejoin="round"/>
<circle cx="1303.6" cy="829.9" r="5" fill="#fff" stroke="#000" stroke-width="2.4" stroke-linejoin="round"/>
<circle cx="1316.5" cy="827.5" r="5" fill="#fff" stroke="#000" stroke-width="2.4" stroke-linejoin="round"/>
<rect x="1330.4" y="740.6" width="10" height="10" fill="#000" stroke="#000" stroke-width="2.4" stroke-linejoin="round"/>
<polygon points="1344.6,835.25 1351.35,842 1344.6,848.75 1337.85,842" fill="#000" stroke="#000" stroke-width="2.4" stroke-linejoin="round"/>
<polygon points="1333.3,835.95 1340.05,842.7 1333.3,849.45 1326.55,842.7" fill="#000" stroke="#000" stroke-width="2.4" stroke-linejoin="round"/>
<rect x="1385.3" y="753.5" width="10" height="10" fill="#000" stroke="#000" stroke-width="2.4" stroke-linejoin="round"/>
<circle cx="1390.3" cy="818.7" r="5" fill="#000" stroke="#000" stroke-width="2.4" stroke-linejoin="round"/>
<circle cx="1390.3" cy="838" r="5" fill="#000" stroke="#000" stroke-width="2.4" stroke-linejoin="round"/>
<polygon points="188.7,1423.85 195.45,1430.6 188.7,1437.35 181.95,1430.6" fill="#000" stroke="#000" stroke-width="2.4" stroke-linejoin="round"/>
<rect x="239.6" y="1418.4" width="10" height="10" fill="#fff" stroke="#000" stroke-width="2.4" stroke-linejoin="round"/>
<circle cx="271.6" cy="1331.1" r="5" fill="#000" stroke="#000" stroke-width="2.4" stroke-linejoin="round"/>
<polygon points="270.6,1365.5 277.1,1354.45 264.1,1354.45" fill="#000" stroke="#000" stroke-width="2.4" stroke-linejoin="round"/>
<circle cx="278.9" cy="1362.2" r="5" fill="#000" stroke="#000" stroke-width="2.4" stroke-linejoin="round"/>
<polygon points="256.5,1366.3 267.55,1359.8 267.55,1372.8" fill="#000" stroke="#000" stroke-width="2.4" stroke-linejoin="round"/>
<circle cx="326.5" cy="1430.6" r="5" fill="#fff" stroke="#000" stroke-width="2.4" stroke-linejoin="round"/>
<polygon points="352.5,1423.85 359.25,1430.6 352.5,1437.35 345.75,1430.6" fill="#000" stroke="#000" stroke-width="2.4" stroke-linejoin="round"/>
<polygon points="380.4,1423.85 387.15,1430.6 380.4,1437.35 373.65,1430.6" fill="#fff" stroke="#000" stroke-width="2.4" stroke-linejoin="round"/>
<polygon points="407.4,1423.85 414.15,1430.6 407.4,1437.35 400.65,1430.6" fill="#000" stroke="#000" stroke-width="2.4" stroke-linejoin="round"/>
<polygon points="435.4,1423.85 442.15,1430.6 435.4,1437.35 428.65,1430.6" fill="#fff" stroke="#000" stroke-width="2.4" stroke-linejoin="round"/>
<rect x="454.5" y="1425.6" width="10" height="10" fill="#000" stroke="#000" stroke-width="2.4" stroke-linejoin="round"/>
<rect x="460.5" y="1425.6" width="10" height="10" fill="#000" stroke="#000" stroke-width="2.4" stroke-linejoin="round"/>
<circle cx="518.5" cy="1393.5" r="5" fill="#fff" stroke="#000" stroke-width="2.4" stroke-linejoin="round"/>
<circle cx="517.5" cy="1400.8" r="5" fill="#fff" stroke="#000" stroke-width="2.4" stroke-linejoin="round"/>
<polygon points="543.3,1342.65 550.05,1349.4 543.3,1356.15 536.55,1349.4" fill="#000" stroke="#000" stroke-width="2.4" stroke-linejoin="round"/>
<circle cx="545" cy="1360.6" r="5" fill="#000" stroke="#000" stroke-width="2.4" stroke-linejoin="round"/>
<circle cx="545" cy="1365.5" r="5" fill="#000" stroke="#000" stroke-width="2.4" stroke-linejoin="round"/>
<circle cx="572.2" cy="1393.5" r="5" fill="#fff" stroke="#000" stroke-width="2.4" stroke-linejoin="round"/>
<circle cx="572.2" cy="1402.4" r="5" fill="#fff" stroke="#000" stroke-width="2.4" stroke-linejoin="round"/>
<circle cx="598.7" cy="1355.8" r="5" fill="#000" stroke="#000" stroke-width="2.4" stroke-linejoin="round"/>
<circle cx="599.5" cy="1363" r="5" fill="#000" stroke="#000" stroke-width="2.4" stroke-linejoin="round"/>
<circle cx="626.8" cy="1405.6" r="5" fill="#fff" stroke="#000" stroke-width="2.4" stroke-linejoin="round"/>
<polygon points="626.8,1426.5 633.3,1415.45 620.3,1415.45" fill="#fff" stroke="#000" stroke-width="2.4" stroke-linejoin="round"/>
<circle cx="654.1" cy="1310" r="5" fill="#000" stroke="#000" stroke-width="2.4" stroke-linejoin="round"/>
<polygon points="663.8,1343.45 670.55,1350.2 663.8,1356.95 657.05,1350.2" fill="#000" stroke="#000" stroke-width="2.4" stroke-linejoin="round"/>
<polygon points="656.6,1355.8 645.55,1349.3 645.55,1362.3" fill="#000" stroke="#000" stroke-width="2.4" stroke-linejoin="round"/>
<circle cx="708.9" cy="1108" r="5" fill="#000" stroke="#000" stroke-width="2.4" stroke-linejoin="round"/>
<polygon points="702.3,1320.95 709.05,1327.7 702.3,1334.45 695.55,1327.7" fill="#000" stroke="#000" stroke-width="2.4" stroke-linejoin="round"/>
<polygon points="717.5,1317.75 724.25,1324.5 717.5,1331.25 710.75,1324.5" fill="#000" stroke="#000" stroke-width="2.4" stroke-linejoin="round"/>
<circle cx="866.2" cy="1403.5" r="5" fill="#000" stroke="#000" stroke-width="2.4" stroke-linejoin="round"/>
<rect x="863" y="1413" width="10" height="10" fill="#000" stroke="#000" stroke-width="2.4" stroke-linejoin="round"/>
<circle cx="866" cy="1425" r="5" fill="#000" stroke="#000" stroke-width="2.4" stroke-linejoin="round"/>
<circle cx="921.7" cy="1413.6" r="5" fill="#fff" stroke="#000" stroke-width="2.4" stroke-linejoin="round"/>
<circle cx="923" cy="1422.7" r="5" fill="#fff" stroke="#000" stroke-width="2.4" stroke-linejoin="round"/>
<rect x="944.7" y="1297.6" width="10" height="10" fill="#000" stroke="#000" stroke-width="2.4" stroke-linejoin="round"/>
<circle cx="949.7" cy="1309.8" r="5" fill="#000" stroke="#000" stroke-width="2.4" stroke-linejoin="round"/>
<polygon points="1011.2,1397.4 1000.15,1390.9 1000.15,1403.9" fill="#fff" stroke="#000" stroke-width="2.4" stroke-linejoin="round"/>
<polygon points="1007.5,1399.65 1014.25,1406.4 1007.5,1413.15 1000.75,1406.4" fill="#fff" stroke="#000" stroke-width="2.4" stroke-linejoin="round"/>
<circle cx="1004.4" cy="1414.5" r="5" fill="#fff" stroke="#000" stroke-width="2.4" stroke-linejoin="round"/>
<rect x="1027.7" y="1374.3" width="10" height="10" fill="#000" stroke="#000" stroke-width="2.4" stroke-linejoin="round"/>
<circle cx="1024.6" cy="1397.4" r="5" fill="#000" stroke="#000" stroke-width="2.4" stroke-linejoin="round"/>
<polygon points="1041.8,1386.15 1048.55,1392.9 1041.8,1399.65 1035.05,1392.9" fill="#000" stroke="#000" stroke-width="2.4" stroke-linejoin="round"/>
<circle cx="1058.9" cy="1396.5" r="5" fill="#fff" stroke="#000" stroke-width="2.4" stroke-linejoin="round"/>
<polygon points="1053.5,1414.15 1060.25,1420.9 1053.5,1427.65 1046.75,1420.9" fill="#fff" stroke="#000" stroke-width="2.4" stroke-linejoin="round"/>
<polygon points="1067,1414.15 1073.75,1420.9 1067,1427.65 1060.25,1420.9" fill="#fff" stroke="#000" stroke-width="2.4" stroke-linejoin="round"/>
<rect x="1081.9" y="1352.7" width="10" height="10" fill="#000" stroke="#000" stroke-width="2.4" stroke-linejoin="round"/>
<circle cx="1086.9" cy="1379.3" r="5" fill="#000" stroke="#000" stroke-width="2.4" stroke-linejoin="round"/>
<circle cx="1086.9" cy="1408.2" r="5" fill="#000" stroke="#000" stroke-width="2.4" stroke-linejoin="round"/>
<circle cx="1114" cy="1409.1" r="5" fill="#fff" stroke="#000" stroke-width="2.4" stroke-linejoin="round"/>
<polygon points="1114,1426.5 1120.5,1415.45 1107.5,1415.45" fill="#fff" stroke="#000" stroke-width="2.4" stroke-linejoin="round"/>
<polygon points="1141.1,1368.95 1147.85,1375.7 1141.1,1382.45 1134.35,1375.7" fill="#000" stroke="#000" stroke-width="2.4" stroke-linejoin="round"/>
<circle cx="1149.2" cy="1406.4" r="5" fill="#000" stroke="#000" stroke-width="2.4" stroke-linejoin="round"/>
<circle cx="1135.7" cy="1415.5" r="5" fill="#000" stroke="#000" stroke-width="2.4" stroke-linejoin="round"/>
<rect x="1191.7" y="1382.2" width="10" height="10" fill="#fff" stroke="#000" stroke-width="2.4" stroke-linejoin="round"/>
<circle cx="1191.3" cy="1414.9" r="5" fill="#fff" stroke="#000" stroke-width="2.4" stroke-linejoin="round"/>
<circle cx="1204.1" cy="1414.9" r="5" fill="#fff" stroke="#000" stroke-width="2.4" stroke-linejoin="round"/>
<circle cx="1223.3" cy="1187.7" r="5" fill="#000" stroke="#000" stroke-width="2.4" stroke-linejoin="round"/>
<polygon points="1226.6,1355.2 1215.55,1348.7 1215.55,1361.7" fill="#000" stroke="#000" stroke-width="2.4" stroke-linejoin="round"/>
<polygon points="1232.9,1336.65 1239.65,1343.4 1232.9,1350.15 1226.15,1343.4" fill="#000" stroke="#000" stroke-width="2.4" stroke-linejoin="round"/>
<circle cx="1250" cy="1408.5" r="5" fill="#fff" stroke="#000" stroke-width="2.4" stroke-linejoin="round"/>
<circle cx="1250" cy="1419.2" r="5" fill="#fff" stroke="#000" stroke-width="2.4" stroke-linejoin="round"/>
<polygon points="1277.7,1257.1 1284.2,1246.05 1271.2,1246.05" fill="#000" stroke="#000" stroke-width="2.4" stroke-linejoin="round"/>
<polygon points="1286.3,1311.05 1293.05,1317.8 1286.3,1324.55 1279.55,1317.8" fill="#000" stroke="#000" stroke-width="2.4" stroke-linejoin="round"/>
<polygon points="1277.8,1328.5 1266.75,1322 1266.75,1335" fill="#000" stroke="#000" stroke-width="2.4" stroke-linejoin="round"/>
<circle cx="1304.4" cy="1421.3" r="5" fill="#fff" stroke="#000" stroke-width="2.4" stroke-linejoin="round"/>
<circle cx="1332.5" cy="1333.8" r="5" fill="#000" stroke="#000" stroke-width="2.4" stroke-linejoin="round"/>
<circle cx="1332.5" cy="1285.8" r="5" fill="#000" stroke="#000" stroke-width="2.4" stroke-linejoin="round"/>
<rect x="1327.1" y="1086.7" width="10" height="10" fill="#000" stroke="#000" stroke-width="2.4" stroke-linejoin="round"/>
<circle cx="1387.6" cy="1345.6" r="5" fill="#000" stroke="#000" stroke-width="2.4" stroke-linejoin="round"/>
<polygon points="1396.1,1387.85 1402.85,1394.6 1396.1,1401.35 1389.35,1394.6" fill="#000" stroke="#000" stroke-width="2.4" stroke-linejoin="round"/>
<polygon points="1389.8,1400 1378.75,1393.5 1378.75,1406.5" fill="#000" stroke="#000" stroke-width="2.4" stroke-linejoin="round"/>
<line x1="1326" y1="1115.2" x2="1339" y2="1115.2" stroke="#000" stroke-width="3"/>
</svg></body></html>
